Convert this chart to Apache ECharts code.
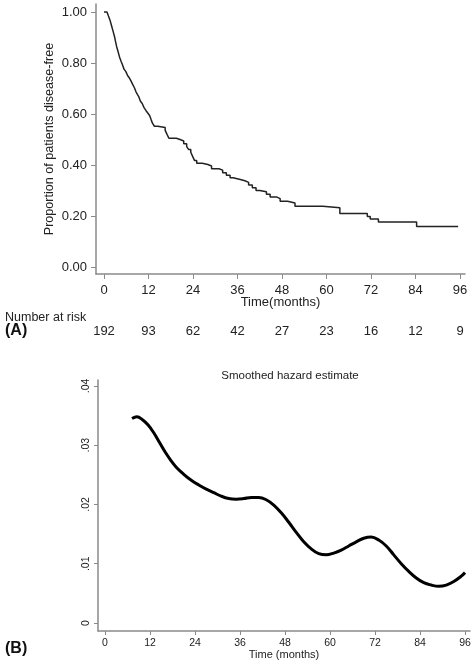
<!DOCTYPE html>
<html>
<head>
<meta charset="utf-8">
<script src="https://cdn.jsdelivr.net/npm/echarts@6/dist/echarts.min.js"></script>
<style>html,body{margin:0;padding:0;background:#fff}#c{width:474px;height:664px}</style>
</head>
<body>
<div id="c"></div>
<script>
// Panel A: Kaplan-Meier disease-free proportion (time in months, proportion)
var kmTime = [0,0.8,1.2,1.6,2.0,2.4,2.8,3.1,3.4,3.8,4.2,4.6,5.0,5.4,5.9,6.4,6.9,7.3,7.8,8.2,8.6,9.0,9.4,9.8,10.3,10.8,11.3,11.8,12.3,12.7,13.1,13.6,14.5,16.5,17.0,17.5,19.5,20.5,21.5,22.3,22.8,23.4,23.9,24.4,25.0,26.5,28.0,29.0,31.0,32.0,33.0,34.0,34.8,36.5,38.0,39.0,40.0,41.0,42.0,43.8,44.8,46.5,47.5,49.5,51.5,59.0,63.6,71.0,71.8,74.0,84.3,95.5];
var kmSurv = [1.0,0.995,0.984,0.969,0.948,0.927,0.906,0.885,0.865,0.844,0.823,0.807,0.792,0.776,0.766,0.750,0.740,0.729,0.714,0.703,0.688,0.677,0.667,0.651,0.641,0.625,0.614,0.604,0.594,0.578,0.563,0.552,0.547,0.536,0.520,0.505,0.500,0.494,0.483,0.472,0.461,0.450,0.434,0.418,0.407,0.402,0.396,0.385,0.380,0.370,0.360,0.350,0.344,0.338,0.332,0.322,0.311,0.300,0.295,0.285,0.275,0.268,0.258,0.251,0.238,0.232,0.210,0.198,0.188,0.176,0.159,0.159];
// Number at risk
var riskTimes = [0,12,24,36,48,60,72,84,96];
var riskCounts = [192,93,62,42,27,23,16,12,9];
// Axis ticks
var timeTicks = [0,12,24,36,48,60,72,84,96];
var propTicks = [0,0.2,0.4,0.6,0.8,1.0];
var hazTicks = [0,0.01,0.02,0.03,0.04];
// Panel B: smoothed hazard estimate
var hazTime = [7.2,8.5,10,11.5,13,14.5,16,17.5,19,21,23,25,27,29,31,33,35,37,39,41,43,45,47,49,51,53,55,57,59,61,63,65,67,69,71,73,75,77,79,81,83,85,87,89,91,93,95,96];
var hazVal = [0.0345,0.0348,0.0343,0.0334,0.0321,0.0305,0.0289,0.0275,0.0263,0.0251,0.0241,0.0233,0.0226,0.0220,0.0214,0.0210,0.0209,0.0210,0.0212,0.0212,0.0208,0.0199,0.0186,0.0170,0.0153,0.0137,0.0125,0.0117,0.0115,0.0118,0.0123,0.0130,0.0137,0.0143,0.0145,0.0140,0.0130,0.0115,0.0100,0.0087,0.0076,0.0068,0.0064,0.0062,0.0064,0.0070,0.0079,0.0085];

var FONT = "'Liberation Sans', Arial, Helvetica, sans-serif";
var AX = '#8a8a8a', TX = '#222';
var chart = echarts.init(document.getElementById('c'), null, {renderer:'canvas'});
function axisBase(fs){
  return {
    type:'value', splitLine:{show:false}, nameMoveOverlap:false,
    axisLine:{show:true, onZero:false, lineStyle:{color:AX, width:1.5}},
    axisTick:{show:true, length:5, lineStyle:{color:AX, width:1}},
    axisLabel:{color:TX, fontFamily:FONT, fontSize:fs},
    nameTextStyle:{color:TX, fontFamily:FONT}
  };
}
var xA = axisBase(13);
Object.assign(xA, {gridIndex:0, min:-2.157, max:97.35, name:'Time(months)', nameLocation:'middle', nameGap:22,
  nameTextStyle:{color:TX, fontFamily:FONT, fontSize:13}});
xA.axisTick.customValues = timeTicks; xA.axisLabel.customValues = timeTicks; xA.axisLabel.margin = 10;
var yA = axisBase(13);
Object.assign(yA, {gridIndex:0, min:-0.02745, max:1.0314, name:'Proportion of patients disease-free', nameLocation:'middle', nameGap:40,
  nameTextStyle:{color:TX, fontFamily:FONT, fontSize:12.6}});
yA.axisTick.customValues = propTicks; yA.axisLabel.customValues = propTicks; yA.axisLabel.margin = 9;
yA.axisLabel.formatter = function(v){return v.toFixed(2);};
var xRisk = {type:'value', gridIndex:0, position:'bottom', offset:51, min:-2.157, max:97.35,
  axisLine:{show:false}, axisTick:{show:false}, splitLine:{show:false},
  axisLabel:{color:TX, fontFamily:FONT, fontSize:13, margin:0, customValues:riskTimes,
    formatter:function(v){var i=riskTimes.indexOf(Math.round(v));return i>=0?String(riskCounts[i]):'';}}};
var xB = axisBase(10.5);
Object.assign(xB, {gridIndex:1, min:-1.867, max:97.33, name:'Time (months)', nameLocation:'middle', nameGap:18,
  nameTextStyle:{color:TX, fontFamily:FONT, fontSize:11}});
xB.axisTick.customValues = timeTicks; xB.axisTick.length = 4; xB.axisLabel.customValues = timeTicks; xB.axisLabel.margin = 7;
var yB = axisBase(10.5);
Object.assign(yB, {gridIndex:1, min:-0.00135, max:0.04101});
yB.axisTick.customValues = hazTicks; yB.axisTick.length = 4; yB.axisLabel.customValues = hazTicks; yB.axisLabel.margin = 6; yB.axisLabel.rotate = 90;
yB.axisLabel.formatter = function(v){ if (Math.abs(v) < 1e-9) return '0'; return v.toFixed(2).replace(/^0/, ''); };

chart.setOption({
  animation:false,
  title:{text:'Smoothed hazard estimate', left:285, top:365, textAlign:'center',
    textStyle:{fontFamily:FONT, fontSize:11.5, fontWeight:'normal', color:TX}},
  grid:[{left:96, right:9, top:4, height:270}, {left:98, right:4, top:380, height:251}],
  xAxis:[xA, xB, xRisk],
  yAxis:[yA, yB],
  graphic:[
    {type:'text', x:5, y:318, style:{text:'Number at risk', font:'12.5px '+FONT, fill:TX, verticalAlign:'middle'}},
    {type:'text', x:5, y:331, style:{text:'(A)', font:'bold 16px '+FONT, fill:'#111', verticalAlign:'middle'}},
    {type:'text', x:5, y:649, style:{text:'(B)', font:'bold 16px '+FONT, fill:'#111', verticalAlign:'middle'}}
  ],
  series:[
    {type:'line', xAxisIndex:0, yAxisIndex:0, step:'end', symbol:'none',
     lineStyle:{color:'#222', width:1.5},
     data:kmTime.map(function(t,i){return [t, kmSurv[i]];})},
    {type:'line', xAxisIndex:1, yAxisIndex:1, smooth:0.4, symbol:'none',
     lineStyle:{color:'#000', width:3},
     data:hazTime.map(function(t,i){return [t, hazVal[i]];})}
  ]
});
</script>
</body>
</html>
